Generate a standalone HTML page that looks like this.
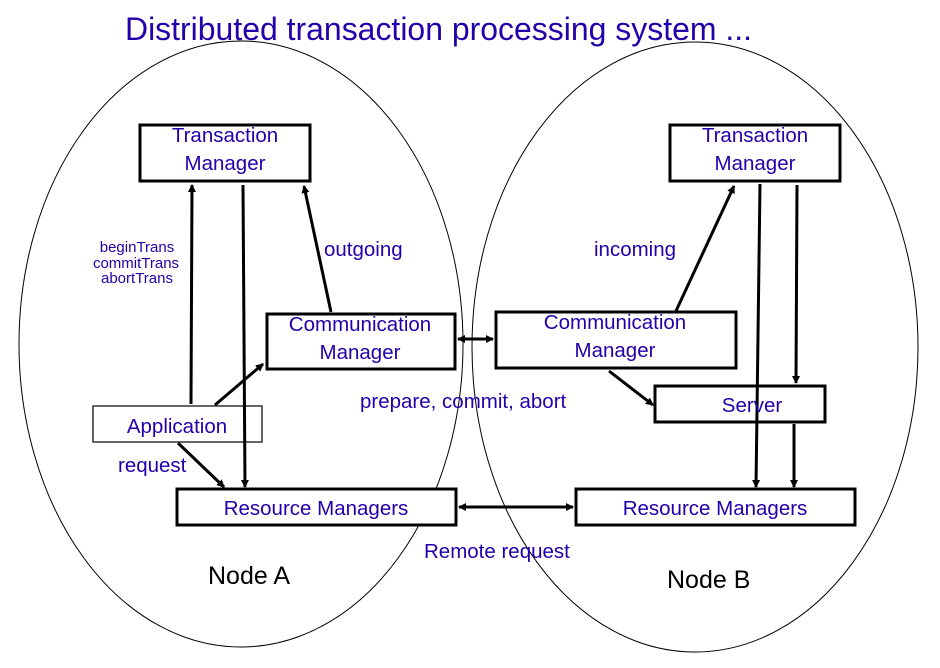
<!DOCTYPE html>
<html><head><style>
body{margin:0;background:#fff;}
svg text{font-family:"Liberation Sans",Arial,sans-serif;}
</style></head><body>
<svg width="940" height="663" viewBox="0 0 940 663" xmlns="http://www.w3.org/2000/svg">
<defs>
<marker id="a" markerWidth="8" markerHeight="8" refX="7" refY="4" orient="auto" markerUnits="userSpaceOnUse">
<path d="M0,0 L8,4 L0,8 z" fill="#000"/></marker>
<marker id="s" markerWidth="8" markerHeight="8" refX="1" refY="4" orient="auto" markerUnits="userSpaceOnUse">
<path d="M8,0 L0,4 L8,8 z" fill="#000"/></marker>
</defs>
<text x="125" y="40" font-size="32" fill="#2200aa" textLength="627" lengthAdjust="spacingAndGlyphs">Distributed transaction processing system ...</text>
<ellipse cx="241" cy="344" rx="222" ry="303" fill="none" stroke="#000" stroke-width="1"/>
<ellipse cx="695" cy="347" rx="223" ry="305" fill="none" stroke="#000" stroke-width="1"/>
<g fill="#fff" stroke="#000" stroke-width="3">
<rect x="140" y="125" width="170" height="56"/>
<rect x="267" y="314" width="188" height="55"/>
<rect x="177" y="489" width="279" height="36"/>
<rect x="670" y="125" width="170" height="56"/>
<rect x="496" y="312" width="240" height="56"/>
<rect x="655" y="386" width="170" height="36"/>
<rect x="576" y="489" width="279" height="36"/>
</g>
<rect x="93" y="406" width="169" height="36" fill="#fff" stroke="#333" stroke-width="1.5"/>
<g stroke="#000" stroke-width="3" fill="none">
<line x1="191" y1="404" x2="192" y2="185" marker-end="url(#a)"/>
<line x1="243" y1="185" x2="245" y2="487" marker-end="url(#a)"/>
<line x1="331" y1="312" x2="304" y2="186" marker-end="url(#a)"/>
<line x1="215" y1="405" x2="263" y2="364" marker-end="url(#a)"/>
<line x1="178" y1="443" x2="224" y2="487" marker-end="url(#a)"/>
<line x1="458" y1="339" x2="493" y2="339" marker-start="url(#s)" marker-end="url(#a)"/>
<line x1="459" y1="507" x2="573" y2="507" marker-start="url(#s)" marker-end="url(#a)"/>
<line x1="676" y1="311" x2="734" y2="186" marker-end="url(#a)"/>
<line x1="760" y1="184" x2="756" y2="487" marker-end="url(#a)"/>
<line x1="797" y1="185" x2="796" y2="383" marker-end="url(#a)"/>
<line x1="609" y1="371" x2="653" y2="405" marker-end="url(#a)"/>
<line x1="794" y1="424" x2="794" y2="487" marker-end="url(#a)"/>
</g>
<g fill="#2200aa" font-size="20.5" text-anchor="middle">
<text x="225" y="142">Transaction</text>
<text x="225" y="170">Manager</text>
<text x="755" y="142">Transaction</text>
<text x="755" y="170">Manager</text>
<text x="360" y="331">Communication</text>
<text x="360" y="359">Manager</text>
<text x="615" y="329">Communication</text>
<text x="615" y="357">Manager</text>
<text x="177" y="433">Application</text>
<text x="316" y="515">Resource Managers</text>
<text x="715" y="515">Resource Managers</text>
<text x="752" y="412">Server</text>
</g>
<g fill="#2200aa" font-size="20.5">
<text x="324" y="256">outgoing</text>
<text x="594" y="256">incoming</text>
<text x="360" y="408">prepare, commit, abort</text>
<text x="118" y="472">request</text>
<text x="424" y="558">Remote request</text>
</g>
<g fill="#2200aa" font-size="15" text-anchor="middle">
<text x="137" y="252">beginTrans</text>
<text x="136" y="268">commitTrans</text>
<text x="137" y="283">abortTrans</text>
</g>
<text x="208" y="584" font-size="25" fill="#000">Node A</text>
<text x="667" y="588" font-size="25" fill="#000">Node B</text>
</svg>
</body></html>
